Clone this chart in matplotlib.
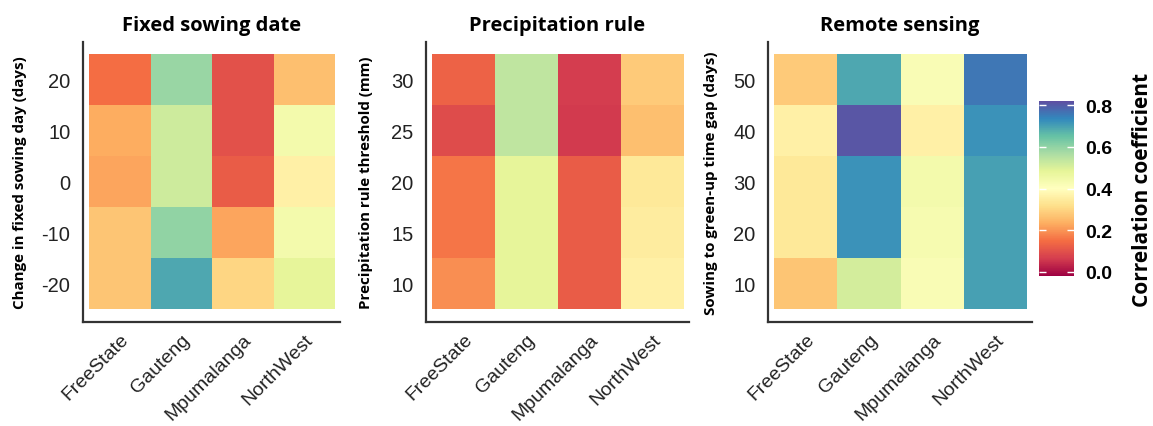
import numpy as np
import matplotlib
matplotlib.use("Agg")
import matplotlib.pyplot as plt
from matplotlib.colors import Normalize

regions = ["FreeState", "Gauteng", "Mpumalanga", "NorthWest"]

# Fixed sowing date: rows = change in sowing day (bottom -> top)
fixed_days = [-20, -10, 0, 10, 20]
fixed_vals = [  # columns: FreeState, Gauteng, Mpumalanga, NorthWest
    [0.27, 0.69, 0.30, 0.48],
    [0.27, 0.60, 0.22, 0.44],
    [0.22, 0.52, 0.12, 0.36],
    [0.23, 0.52, 0.10, 0.44],
    [0.15, 0.59, 0.10, 0.26],
]

# Precipitation rule: rows = threshold (mm)
precip_mm = [10, 15, 20, 25, 30]
precip_vals = [
    [0.19, 0.48, 0.12, 0.36],
    [0.16, 0.48, 0.12, 0.35],
    [0.16, 0.48, 0.12, 0.34],
    [0.09, 0.54, 0.06, 0.26],
    [0.13, 0.54, 0.065, 0.28],
]

# Remote sensing: rows = sowing to green-up gap (days)
rs_days = [10, 20, 30, 40, 50]
rs_vals = [
    [0.27, 0.51, 0.42, 0.70],
    [0.34, 0.72, 0.43, 0.70],
    [0.34, 0.72, 0.44, 0.70],
    [0.36, 0.81, 0.36, 0.72],
    [0.28, 0.69, 0.42, 0.76],
]

titles = ["Fixed sowing date", "Precipitation rule", "Remote sensing"]
ylabels = ["Change in fixed sowing day (days)",
           "Precipitation rule threshold (mm)",
           "Sowing to green-up time gap (days)"]
cbar_label = "Correlation coefficient"
cbar_ticks = [0.0, 0.2, 0.4, 0.6, 0.8]

VMIN, VMAX = -0.02, 0.82
cmap = plt.get_cmap("Spectral")
norm = Normalize(VMIN, VMAX)

W, H = 1153, 427
fig = plt.figure(figsize=(W / 100, H / 100), dpi=100)

def fr(x0, y0, x1, y1):
    return [x0 / W, 1 - y1 / H, (x1 - x0) / W, (y1 - y0) / H]

axes_px = [(83, 43, 340, 323), (426, 43, 689, 323), (768, 43, 1032, 323)]
label_right_px = [27, 373, 718]
datasets = [(fixed_days, fixed_vals), (precip_mm, precip_vals), (rs_days, rs_vals)]

mesh = None
for (px, lx, (rows, vals), title, ylab) in zip(axes_px, label_right_px, datasets, titles, ylabels):
    ax = fig.add_axes(fr(*px))
    arr = np.array(vals)
    xe = np.arange(len(regions) + 1) + 0.5
    ye = np.arange(len(rows) + 1) + 0.5
    mesh = ax.pcolormesh(xe, ye, arr, cmap=cmap, norm=norm, shading="flat")
    ax.set_xlim(0.4, 4.58)
    ax.set_ylim(0.25, 5.74)
    ax.set_xticks(np.arange(1, len(regions) + 1))
    ax.set_xticklabels(regions, rotation=45, ha="right", rotation_mode="anchor",
                       fontsize=14, family="Liberation Sans", color="#222222")
    ax.set_yticks(np.arange(1, len(rows) + 1))
    ax.set_yticklabels([str(r) for r in rows], fontsize=14.5,
                       family="Liberation Sans", color="#222222")
    ax.tick_params(length=0, pad=9)
    ax.tick_params(axis="x", pad=6)
    for s in ["top", "right"]:
        ax.spines[s].set_visible(False)
    for s in ["left", "bottom"]:
        ax.spines[s].set_color("#333333")
        ax.spines[s].set_linewidth(1.6)
    ax.set_title(title, fontsize=14.5, fontweight="bold", family="Open Sans", pad=9)
    ax.set_ylabel(ylab, fontsize=10.9, fontweight="bold", family="Open Sans")
    ax.yaxis.set_label_coords((lx - px[0]) / (px[2] - px[0]), 0.5)

cax = fig.add_axes(fr(1039, 102, 1074, 277))
cb = fig.colorbar(mesh, cax=cax, ticks=cbar_ticks)
cb.outline.set_visible(False)
cb.ax.tick_params(direction="in", color="white", length=5, width=1, pad=8)
cb.ax.yaxis.set_ticklabels([f"{t:.1f}" for t in cbar_ticks])
for lab in cb.ax.get_yticklabels():
    lab.set_fontsize(14)
    lab.set_fontweight("bold")
    lab.set_family("Liberation Sans")
cb.ax.yaxis.set_ticks_position("both")
cb.ax.tick_params(labelleft=False, labelright=True)
cb.set_label(cbar_label, fontsize=15, fontweight="bold", family="Open Sans", labelpad=14)
cb.ax.yaxis.set_label_position("right")

fig.savefig("out.png", dpi=100)
